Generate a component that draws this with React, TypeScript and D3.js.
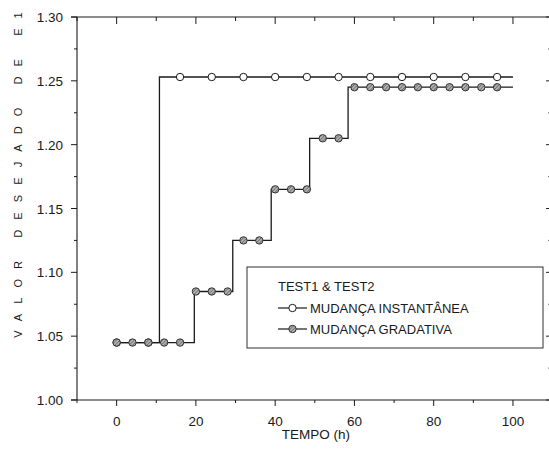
import React from "react";
import * as d3 from "d3";

// Step series: level changes at the given times (h)
const instStepTimes = [10.8];
const instLevels = [1.045, 1.253];
const gradStepTimes = [19.6, 29.3, 39.0, 48.7, 58.4];
const gradLevels = [1.045, 1.085, 1.125, 1.165, 1.205, 1.245];

// Sampling times where markers are drawn
const instMarkerTimes = [0, 8, 16, 24, 32, 40, 48, 56, 64, 72, 80, 88, 96];
const gradMarkerTimes = [0, 4, 8, 12, 16, 20, 24, 28, 32, 36, 40, 44, 48, 52, 56, 60, 64, 68, 72, 76, 80, 84, 88, 92, 96];

const tEnd = 100;
const xMajorTicks = [0, 20, 40, 60, 80, 100];
const xMinorTicks = [-10, 10, 30, 50, 70, 90];
const yMajorTicks = [1.0, 1.05, 1.1, 1.15, 1.2, 1.25, 1.3];
const yMinorTicks = [1.025, 1.075, 1.125, 1.175, 1.225, 1.275];

const legendTitle = "TEST1 & TEST2";
const seriesNames = ["MUDANÇA INSTANTÂNEA", "MUDANÇA GRADATIVA"];
const xTitle = "TEMPO (h)";
const yTitle = "VALOR DESEJADO DE E1";

const W = 549;
const H = 455;
const FONT = "'Liberation Sans', Arial, sans-serif";

function levelAt(t: number, times: number[], levels: number[]) {
  let i = 0;
  while (i < times.length && t >= times[i]) i++;
  return levels[i];
}

function stepPoints(times: number[], levels: number[]): [number, number][] {
  const pts: [number, number][] = [[0, levels[0]]];
  times.forEach((t, i) => pts.push([t, levels[i + 1]]));
  pts.push([tEnd, levels[levels.length - 1]]);
  return pts;
}

export default function App() {
  const x = d3.scaleLinear().domain([-10, 110]).range([77, 552.6]);
  const y = d3.scaleLinear().domain([1.0, 1.3]).range([400, 17]);
  const line = d3
    .line<[number, number]>()
    .x((d) => x(d[0]))
    .y((d) => y(d[1]))
    .curve(d3.curveStepAfter);

  const instPath = line(stepPoints(instStepTimes, instLevels)) || "";
  const gradPath = line(stepPoints(gradStepTimes, gradLevels)) || "";

  const x0 = x(-10);
  const y0 = y(1.0);
  const y1 = y(1.3);
  const xr = W; // frame runs off the right edge of the page

  const ink = "#1a1a1a";

  return (
    <svg
      width={W}
      height={H}
      style={{ position: "absolute", left: 0, top: 0, background: "#fff", overflow: "hidden" }}
      fontFamily={FONT}
    >
      <defs>
        <pattern id="hatch" width="2.5" height="2.5" patternUnits="userSpaceOnUse" patternTransform="rotate(45)">
          <rect width="2.5" height="2.5" fill="#b0b0b0" />
          <line x1="0" y1="0" x2="0" y2="2.5" stroke="#444" strokeWidth="1" />
        </pattern>
      </defs>

      {/* frame */}
      <g stroke={ink} strokeWidth={1.1} fill="none">
        <line x1={x0 - 6} y1={y0} x2={xr} y2={y0} />
        <line x1={x0 - 6} y1={y1} x2={xr} y2={y1} />
        <line x1={x0} y1={y0} x2={x0} y2={y1} />
      </g>

      {/* ticks: bottom and left outward, top and right inward */}
      <g stroke={ink} strokeWidth={1}>
        {xMajorTicks.map((t) => (
          <g key={"xM" + t}>
            <line x1={x(t)} x2={x(t)} y1={y0} y2={y0 + 6} />
            <line x1={x(t)} x2={x(t)} y1={y1} y2={y1 + 7} />
          </g>
        ))}
        {xMinorTicks.map((t) => (
          <g key={"xm" + t}>
            <line x1={x(t)} x2={x(t)} y1={y0} y2={y0 + 3} />
            <line x1={x(t)} x2={x(t)} y1={y1} y2={y1 + 4} />
          </g>
        ))}
        {yMajorTicks.map((v) => (
          <g key={"yM" + v}>
            <line x1={x0 - 6} x2={x0} y1={y(v)} y2={y(v)} />
            <line x1={x(110) - 6.5} x2={xr} y1={y(v)} y2={y(v)} />
          </g>
        ))}
        {yMinorTicks.map((v) => (
          <g key={"ym" + v}>
            <line x1={x0 - 3} x2={x0} y1={y(v)} y2={y(v)} />
            <line x1={x(110) - 4.5} x2={xr} y1={y(v)} y2={y(v)} strokeWidth={0.7} />
          </g>
        ))}
      </g>

      {/* tick labels */}
      <g fill={ink} fontSize={13.5}>
        {xMajorTicks.map((t) => (
          <text key={"xl" + t} x={x(t)} y={426} textAnchor="middle">
            {t}
          </text>
        ))}
        {yMajorTicks.map((v) => (
          <text key={"yl" + v} x={63} y={y(v) + 5} textAnchor="end">
            {v.toFixed(2)}
          </text>
        ))}
      </g>

      {/* axis titles */}
      <text x={316} y={439} textAnchor="middle" fontSize={13.5} fill={ink}>
        {xTitle}
      </text>
      <text
        transform={`translate(21.5,${170}) rotate(-90)`}
        textAnchor="middle"
        fontSize={11}
        letterSpacing={10.1}
        fill={ink}
      >
        {yTitle}
      </text>

      {/* series lines */}
      <path d={instPath} fill="none" stroke={ink} strokeWidth={1.3} />
      <path d={gradPath} fill="none" stroke={ink} strokeWidth={1.3} />

      {/* markers */}
      {instMarkerTimes.map((t) => (
        <circle
          key={"im" + t}
          cx={x(t)}
          cy={y(levelAt(t, instStepTimes, instLevels))}
          r={3.7}
          fill="#fff"
          stroke={ink}
          strokeWidth={1}
        />
      ))}
      {gradMarkerTimes.map((t) => (
        <circle
          key={"gm" + t}
          cx={x(t)}
          cy={y(levelAt(t, gradStepTimes, gradLevels))}
          r={3.7}
          fill="url(#hatch)"
          stroke="#333"
          strokeWidth={1}
        />
      ))}

      {/* legend */}
      <g>
        <rect x={247} y={267} width={296} height={81} fill="#fff" stroke={ink} strokeWidth={0.9} />
        <text x={278} y={291} fontSize={13} fill={ink}>
          {legendTitle}
        </text>
        <line x1={278} x2={307} y1={308} y2={308} stroke={ink} strokeWidth={1.2} />
        <circle cx={292.5} cy={308} r={3.7} fill="#fff" stroke={ink} strokeWidth={1} />
        <text x={310} y={313} fontSize={13} fill={ink}>
          {seriesNames[0]}
        </text>
        <line x1={278} x2={307} y1={329} y2={329} stroke={ink} strokeWidth={1.2} />
        <circle cx={292.5} cy={329} r={3.7} fill="url(#hatch)" stroke="#333" strokeWidth={1} />
        <text x={310} y={334} fontSize={13} fill={ink}>
          {seriesNames[1]}
        </text>
      </g>
    </svg>
  );
}
